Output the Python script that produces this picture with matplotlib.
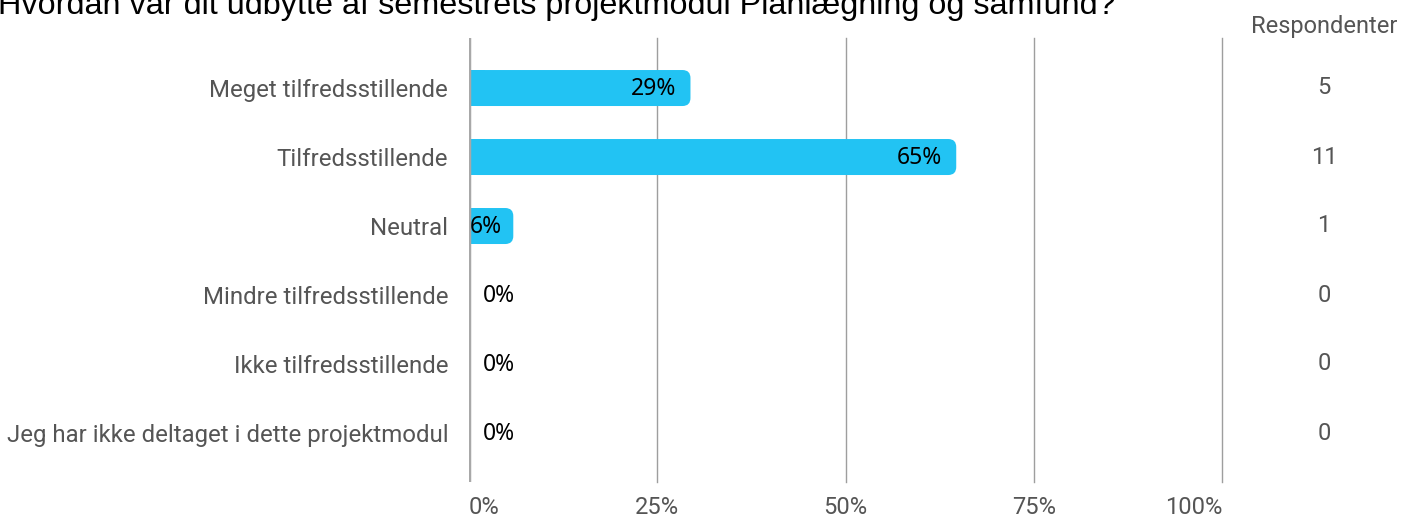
import numpy as np
import matplotlib.pyplot as plt
from matplotlib.patches import FancyBboxPatch, Rectangle

# survey answers
categories = ["Meget tilfredsstillende", "Tilfredsstillende", "Neutral",
              "Mindre tilfredsstillende", "Ikke tilfredsstillende",
              "Jeg har ikke deltaget i dette projektmodul"]
counts = [5, 11, 1, 0, 0, 0]
pct_labels = ["29%", "65%", "6%", "0%", "0%", "0%"]
tick_vals = [0, 0.25, 0.5, 0.75, 1.0]
tick_labels = ["0%", "25%", "50%", "75%", "100%"]
title = "Hvordan var dit udbytte af semestrets projektmodul Planlægning og samfund?"

plt.rcParams['font.family'] = ['Roboto', 'DejaVu Sans']
W, H = 1415, 519
fig = plt.figure(figsize=(W / 100, H / 100), dpi=100)
x0, x1 = 469, 1222
y_top, y_bot = 38, 482
ax = fig.add_axes([x0 / W, 1 - y_bot / H, (x1 - x0) / W, (y_bot - y_top) / H])

n = len(categories)
ax.set_xlim(0, 1)
ax.set_ylim(n - 1 + 0.71, -0.725)

total = sum(counts)
shares = np.array(counts) / total
bar_col = "#22c3f3"
bh = 36 / 69  # bar height in row units
px_x = 1.0 / (x1 - x0)
px_y = (n - 1 + 0.71 + 0.725) / (y_bot - y_top)
r = 8
for i, s in enumerate(shares):
    if s <= 0:
        continue
    box = FancyBboxPatch((0, i - bh / 2), s, bh,
                         boxstyle=f"round,pad=0,rounding_size={r * px_x}",
                         mutation_aspect=px_y / px_x,
                         fc=bar_col, ec="none", zorder=3)
    ax.add_patch(box)
    ax.add_patch(Rectangle((0, i - bh / 2), min(s, 2 * r * px_x), bh,
                           fc=bar_col, ec="none", zorder=3))

for i, (s, lab) in enumerate(zip(shares, pct_labels)):
    if s > 0:
        xt, ha = max(s - 14 * px_x, 33 * px_x), "right"
    else:
        xt, ha = 14 * px_x, "left"
    ax.text(xt, i + 0.02, lab, ha=ha, va="center", fontsize=16.5, color="black",
            zorder=6, family=["Noto Sans", "DejaVu Sans"])

for t in tick_vals[1:]:
    ax.axvline(t, color="#9e9e9e", lw=1, zorder=1, clip_on=False)
ax.axvline(0, color="#a8a8a8", lw=2.5, zorder=5)

ax.set_yticks(range(n))
ax.set_yticklabels(categories, fontsize=17.3, color="#555555")
ax.set_xticks(tick_vals)
ax.set_xticklabels(tick_labels, fontsize=17, color="#555555")
xl = ax.get_xticklabels()
xl[0].set_ha("left")
xl[-1].set_ha("right")
ax.tick_params(length=0)
ax.tick_params(axis="y", pad=15)
ax.tick_params(axis="x", pad=10)
for sp in ax.spines.values():
    sp.set_visible(False)

# respondent column
fig.text(1397 / W, 1 - 26 / H, "Respondenter", ha="right", va="center",
         fontsize=17, color="#555555")
for i, c in enumerate(counts):
    yy = 1 - (88 + i * 69) / H
    fig.text(1324 / W, yy, str(c), ha="center", va="center",
             fontsize=17, color="#555555")

fig.text(-2 / W, 1 - 14 / H, title, ha="left", va="baseline",
         fontsize=23.3, color="black", family=["Liberation Sans", "DejaVu Sans"])

fig.savefig("out.png", dpi=100)
